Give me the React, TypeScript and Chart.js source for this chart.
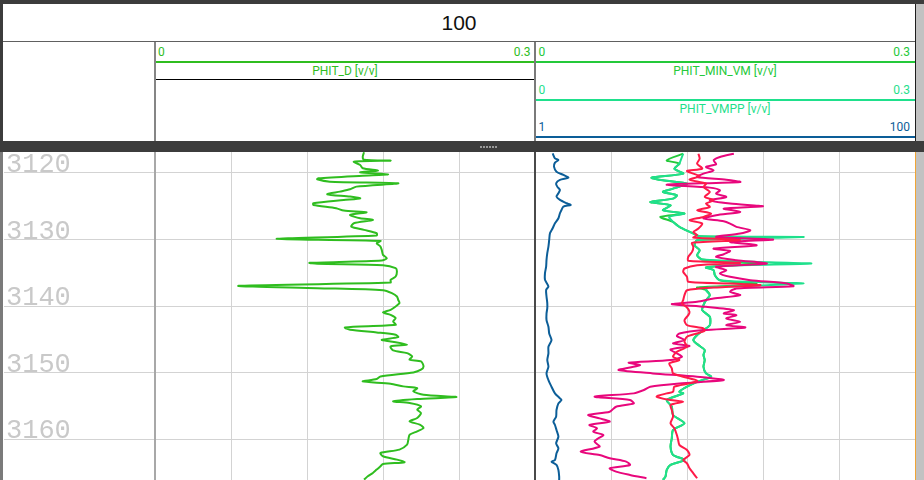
import React, { useEffect, useRef } from "react";
import { Chart, registerables } from "chart.js";

Chart.register(...registerables);

// ---------- data ----------
const TITLE = "100";
const DEPTH_MIN = 3116.85;
const DEPTH_MAX = 3166.11;
const DEPTH_TICKS = [3120, 3130, 3140, 3150, 3160];
const PHI_TICKS = [0, 0.06, 0.12, 0.18, 0.24, 0.3];

const PHIT_D_DEPTH = [
  3116.9, 3117.55, 3118.0, 3118.15, 3118.3, 3118.8, 3119.3, 3119.65, 3119.9, 3120.2,
  3120.4, 3120.8, 3120.95, 3121.3, 3121.55, 3122.05, 3122.45, 3122.8, 3123.2, 3123.55,
  3123.8, 3124.05, 3124.55, 3124.8, 3125.3, 3125.65, 3125.9, 3126.3, 3126.8, 3127.05,
  3127.55, 3128.05, 3128.55, 3129.05, 3129.4, 3129.9, 3130.2, 3130.55, 3131.05, 3131.55,
  3132.3, 3132.8, 3133.15, 3133.5, 3133.65, 3133.85, 3134.3, 3134.8, 3135.55, 3136.05,
  3136.45, 3136.95, 3137.3, 3137.6, 3138.05, 3138.55, 3139.05, 3139.55, 3140.05, 3140.55,
  3140.95, 3141.3, 3141.8, 3142.3, 3142.8, 3143.2, 3143.55, 3143.95, 3144.3, 3144.65,
  3145.05, 3145.3, 3145.8, 3146.05, 3146.65, 3147.05, 3147.55, 3148.05, 3148.3, 3149.05,
  3149.55, 3149.95, 3150.55, 3150.95, 3151.3, 3151.65, 3152.05, 3152.3, 3152.8, 3153.3,
  3153.65, 3153.95, 3154.3, 3154.55, 3155.05, 3155.55, 3156.05, 3156.8, 3157.3, 3157.8,
  3158.3, 3158.8, 3159.3, 3160.05, 3160.8, 3161.55, 3162.05, 3162.55, 3163.05, 3163.45,
  3163.7, 3164.05, 3164.55, 3165.05, 3165.55, 3166.05,
];
const PHIT_D = [
  0.165, 0.164, 0.165, 0.186, 0.157, 0.162, 0.164, 0.176, 0.162, 0.184,
  0.164, 0.129, 0.128, 0.138, 0.192, 0.159, 0.154, 0.146, 0.136, 0.154,
  0.162, 0.149, 0.125, 0.125, 0.143, 0.149, 0.167, 0.154, 0.162, 0.172,
  0.157, 0.155, 0.165, 0.175, 0.175, 0.096, 0.178, 0.175, 0.178, 0.179,
  0.18, 0.183, 0.179, 0.122, 0.128, 0.18, 0.19, 0.191, 0.19, 0.186,
  0.186, 0.066, 0.128, 0.18, 0.187, 0.191, 0.192, 0.193, 0.19, 0.186,
  0.18, 0.186, 0.19, 0.188, 0.19, 0.15, 0.154, 0.175, 0.19, 0.192,
  0.179, 0.186, 0.199, 0.186, 0.188, 0.199, 0.203, 0.201, 0.21, 0.212,
  0.21, 0.204, 0.178, 0.175, 0.164, 0.186, 0.196, 0.207, 0.204, 0.212,
  0.238, 0.207, 0.188, 0.201, 0.21, 0.207, 0.21, 0.207, 0.201, 0.209,
  0.212, 0.207, 0.201, 0.2, 0.199, 0.193, 0.178, 0.18, 0.191, 0.197,
  0.18, 0.178, 0.175, 0.172, 0.168, 0.165,
];

const VM_DEPTH = [
  3117.1, 3118.1, 3118.6, 3119.35, 3120.1, 3120.7, 3121.1, 3121.6, 3122.35, 3122.85,
  3123.35, 3123.85, 3124.35, 3124.85, 3125.6, 3126.1, 3126.6, 3127.35, 3128.1, 3128.85,
  3129.1, 3129.5, 3129.6, 3129.85, 3130.1, 3130.85, 3131.6, 3132.35, 3133.0, 3133.4,
  3133.6, 3133.9, 3134.2, 3134.6, 3135.35, 3136.1, 3136.4, 3136.6, 3136.9, 3137.2,
  3137.6, 3138.35, 3139.1, 3139.85, 3140.6, 3141.6, 3142.85, 3143.6, 3144.35, 3145.1,
  3145.85, 3146.6, 3147.35, 3148.1, 3149.1, 3150.1, 3150.6, 3151.35, 3152.1, 3152.85,
  3153.1, 3154.1, 3155.1, 3156.35, 3157.6, 3158.6, 3159.85, 3161.1, 3162.35, 3163.1,
  3163.85, 3164.6, 3165.6, 3166.1,
];
const PHIT_VMPP = [
  0.117, 0.115, 0.114, 0.11, 0.117, 0.092, 0.101, 0.12, 0.109, 0.101,
  0.112, 0.109, 0.091, 0.107, 0.101, 0.118, 0.106, 0.109, 0.114, 0.122,
  0.125, 0.13, 0.212, 0.162, 0.128, 0.126, 0.13, 0.128, 0.132, 0.185,
  0.218, 0.154, 0.135, 0.141, 0.142, 0.146, 0.18, 0.212, 0.178, 0.137,
  0.135, 0.138, 0.135, 0.133, 0.132, 0.138, 0.138, 0.133, 0.128, 0.125,
  0.129, 0.134, 0.133, 0.134, 0.133, 0.135, 0.139, 0.128, 0.12, 0.114,
  0.117, 0.104, 0.108, 0.109, 0.118, 0.109, 0.108, 0.107, 0.109, 0.118,
  0.107, 0.104, 0.103, 0.101,
];
const PHIT_MIN_VM = [
  0.117, 0.104, 0.114, 0.11, 0.117, 0.092, 0.101, 0.12, 0.109, 0.101,
  0.112, 0.109, 0.091, 0.107, 0.101, 0.118, 0.099, 0.109, 0.114, 0.122,
  0.125, 0.13, 0.17, 0.162, 0.128, 0.126, 0.13, 0.128, 0.132, 0.16,
  0.18, 0.154, 0.135, 0.141, 0.142, 0.146, 0.16, 0.175, 0.16, 0.128,
  0.135, 0.138, 0.135, 0.133, 0.132, 0.138, 0.138, 0.133, 0.128, 0.125,
  0.129, 0.134, 0.133, 0.134, 0.133, 0.135, 0.139, 0.128, 0.12, 0.114,
  0.117, 0.104, 0.108, 0.109, 0.118, 0.109, 0.108, 0.107, 0.109, 0.118,
  0.107, 0.104, 0.103, 0.101,
];

const RED_DEPTH = [
  3117.1, 3117.85, 3118.6, 3119.35, 3119.7, 3120.1, 3120.5, 3121.0, 3121.6, 3122.1,
  3122.85, 3123.6, 3124.1, 3124.6, 3125.1, 3125.6, 3126.1, 3126.6, 3127.1, 3127.6,
  3128.35, 3128.85, 3129.35, 3129.7, 3130.1, 3130.5, 3131.1, 3131.85, 3132.6, 3133.2,
  3133.5, 3133.85, 3134.35, 3134.85, 3135.6, 3136.35, 3136.6, 3136.85, 3137.2, 3137.6,
  3138.35, 3139.1, 3139.6, 3140.2, 3140.85, 3141.35, 3142.1, 3142.85, 3143.35, 3143.7,
  3144.1, 3144.6, 3145.35, 3146.1, 3146.85, 3147.6, 3148.1, 3148.6, 3149.35, 3150.1,
  3150.6, 3151.2, 3151.6, 3152.1, 3152.85, 3153.1, 3153.6, 3154.1, 3154.35, 3154.85,
  3155.6, 3156.6, 3157.6, 3158.35, 3159.35, 3160.1, 3160.85, 3161.6, 3162.35, 3163.1,
  3163.6, 3164.35, 3165.1, 3165.85,
];
const RED_VALUES = [
  0.129, 0.13, 0.128, 0.132, 0.12, 0.125, 0.13, 0.122, 0.135, 0.133,
  0.138, 0.134, 0.141, 0.135, 0.138, 0.128, 0.139, 0.133, 0.122, 0.132,
  0.129, 0.125, 0.128, 0.125, 0.162, 0.124, 0.125, 0.124, 0.121, 0.121,
  0.162, 0.128, 0.118, 0.117, 0.12, 0.121, 0.154, 0.178, 0.141, 0.12,
  0.118, 0.117, 0.116, 0.12, 0.122, 0.121, 0.118, 0.12, 0.133, 0.134,
  0.128, 0.12, 0.118, 0.12, 0.112, 0.109, 0.114, 0.106, 0.108, 0.109,
  0.117, 0.128, 0.122, 0.11, 0.109, 0.104, 0.096, 0.107, 0.117, 0.107,
  0.108, 0.109, 0.107, 0.11, 0.112, 0.113, 0.114, 0.12, 0.122, 0.117,
  0.12, 0.122, 0.125, 0.128,
];

const MAG_DEPTH = [
  3117.1, 3117.6, 3118.1, 3118.7, 3119.1, 3119.6, 3120.1, 3120.6, 3121.0, 3121.35,
  3121.75, 3122.2, 3122.6, 3123.1, 3123.6, 3124.1, 3124.6, 3125.0, 3125.35, 3125.85,
  3126.35, 3126.85, 3127.25, 3127.6, 3128.1, 3128.6, 3129.1, 3129.6, 3130.0, 3130.35,
  3130.85, 3131.35, 3131.7, 3132.2, 3132.6, 3133.1, 3133.6, 3134.1, 3134.6, 3135.1,
  3135.6, 3136.1, 3136.6, 3137.0, 3137.35, 3137.85, 3138.35, 3138.85, 3139.35, 3139.7,
  3140.1, 3140.6, 3141.1, 3141.35, 3141.85, 3142.35, 3142.85, 3143.2, 3143.6, 3144.1,
  3144.5, 3145.1, 3145.6, 3146.0, 3146.5, 3147.1, 3147.6, 3148.1, 3148.5, 3148.85,
  3149.2, 3149.6, 3150.1, 3150.6, 3151.1, 3151.6, 3152.1, 3152.6, 3153.1, 3153.6,
  3154.1, 3154.6, 3155.1, 3155.85, 3156.35, 3156.85, 3157.35, 3157.85, 3158.35, 3158.85,
  3159.35, 3159.85, 3160.35, 3161.1, 3161.85, 3162.35, 3162.85, 3163.35, 3163.85, 3164.35,
  3164.85, 3165.35, 3165.85,
];
const MAG_VALUES = [
  0.157, 0.146, 0.141, 0.143, 0.135, 0.141, 0.133, 0.128, 0.151, 0.162,
  0.104, 0.138, 0.146, 0.143, 0.151, 0.138, 0.154, 0.18, 0.149, 0.162,
  0.143, 0.133, 0.149, 0.154, 0.159, 0.17, 0.162, 0.143, 0.188, 0.154,
  0.175, 0.141, 0.154, 0.149, 0.143, 0.159, 0.183, 0.143, 0.151, 0.146,
  0.154, 0.17, 0.199, 0.204, 0.159, 0.154, 0.162, 0.141, 0.128, 0.108,
  0.135, 0.157, 0.149, 0.159, 0.151, 0.162, 0.151, 0.166, 0.133, 0.114,
  0.112, 0.118, 0.109, 0.122, 0.107, 0.112, 0.116, 0.107, 0.074, 0.083,
  0.075, 0.066, 0.093, 0.128, 0.149, 0.114, 0.091, 0.086, 0.078, 0.047,
  0.075, 0.078, 0.064, 0.059, 0.042, 0.051, 0.059, 0.043, 0.049, 0.046,
  0.054, 0.05, 0.047, 0.051, 0.036, 0.051, 0.059, 0.072, 0.075, 0.059,
  0.064, 0.075, 0.088,
];

const BLUE_DEPTH = [
  3117.05, 3117.8, 3118.05, 3118.45, 3119.05, 3119.8, 3120.3, 3120.7, 3121.05, 3121.55,
  3122.05, 3122.55, 3123.05, 3123.55, 3124.05, 3124.55, 3124.8, 3125.05, 3125.55, 3126.05,
  3126.8, 3127.55, 3128.3, 3129.05, 3130.05, 3131.05, 3132.05, 3133.05, 3134.05, 3135.05,
  3136.05, 3137.05, 3137.55, 3138.55, 3139.55, 3140.3, 3141.1, 3142.1, 3143.1, 3144.1,
  3145.1, 3146.1, 3147.1, 3148.1, 3149.1, 3150.1, 3151.1, 3152.1, 3153.1, 3153.85,
  3154.1, 3154.6, 3155.6, 3156.6, 3157.35, 3157.85, 3158.6, 3159.6, 3160.6, 3161.35,
  3162.1, 3163.1, 3163.35, 3163.85, 3164.6, 3165.6, 3166.1,
];
const BLUE_VALUES = [
  5.6, 6.2, 7.1, 6.2, 5.95, 6.6, 8.4, 9.7, 7.5, 6.5,
  6.8, 7.5, 7.1, 6.6, 7.5, 9.25, 10.3, 8.4, 7.9, 7.5,
  7.1, 6.2, 5.6, 4.9, 4.7, 4.5, 4.2, 4.0, 3.9, 3.6,
  3.6, 4.5, 3.9, 4.0, 4.2, 4.2, 4.0, 4.0, 4.5, 4.7,
  5.3, 4.5, 4.5, 4.2, 4.5, 4.0, 4.5, 5.3, 6.2, 7.5,
  7.9, 7.1, 6.6, 6.5, 5.8, 6.2, 6.6, 7.1, 6.5, 7.1,
  6.6, 6.2, 5.3, 6.6, 7.1, 7.3, 7.3,
];

// ---------- styling ----------
const C_PHIT_D = "#2fbd1f";
const C_MIN_VM = "#24c93a";
const C_VMPP = "#1fe08c";
const C_BLUE = "#0c5e98";
const C_RED = "#ff1a48";
const C_MAG = "#e8077c";
const GRID = "#d3d3d3";
const LABEL_FONT = "Roboto, 'Noto Sans', sans-serif";

const pts = (depth: number[], values: number[]) =>
  depth.map((d, i) => ({ x: values[i], y: d }));

function depthScale(showLabels: boolean): any {
  return {
    type: "linear",
    reverse: true,
    min: DEPTH_MIN,
    max: DEPTH_MAX,
    afterBuildTicks: (axis: any) => {
      axis.ticks = DEPTH_TICKS.map((v) => ({ value: v }));
    },
    afterFit: (axis: any) => {
      axis.paddingTop = 0;
      axis.paddingBottom = 0;
    },
    grid: { color: GRID, lineWidth: 1, drawTicks: false },
    border: { display: false },
    ticks: showLabels
      ? {
          display: true,
          mirror: true,
          padding: 2,
          labelOffset: -8,
          autoSkip: false,
          color: "#c9c9c9",
          font: { family: "'Liberation Mono', monospace", size: 27 },
          callback: (v: any) => String(v),
        }
      : { display: false },
  };
}

function phiScale(): any {
  return {
    type: "linear",
    position: "top",
    min: 0,
    max: 0.3,
    afterBuildTicks: (axis: any) => {
      axis.ticks = PHI_TICKS.map((v) => ({ value: v }));
    },
    grid: {
      color: (ctx: any) =>
        ctx.index === 0 || ctx.index === PHI_TICKS.length - 1 ? "rgba(0,0,0,0)" : GRID,
      lineWidth: 1,
      drawTicks: false,
    },
    border: { display: false },
    ticks: { display: false },
  };
}

function line(label: string, data: any[], color: string, xAxisID = "x"): any {
  return {
    label,
    data,
    borderColor: color,
    backgroundColor: color,
    borderWidth: 2,
    pointRadius: 0,
    tension: 0.25,
    fill: false,
    xAxisID,
    yAxisID: "y",
  };
}

function baseOptions(scales: any): any {
  return {
    responsive: false,
    animation: false,
    indexAxis: "y",
    events: [],
    layout: { padding: 0 },
    plugins: { legend: { display: false }, tooltip: { enabled: false } },
    scales,
  };
}

function ChartCanvas(props: { left: number; top: number; width: number; height: number; make: () => any }) {
  const ref = useRef<HTMLCanvasElement>(null);
  useEffect(() => {
    const chart = new Chart(ref.current as HTMLCanvasElement, props.make());
    return () => chart.destroy();
  }, []);
  return (
    <canvas
      ref={ref}
      width={props.width}
      height={props.height}
      style={{ position: "absolute", left: props.left, top: props.top, width: props.width, height: props.height }}
    />
  );
}

const box = (left: number, top: number, width: number, height: number, bg: string): React.CSSProperties => ({
  position: "absolute",
  left,
  top,
  width,
  height,
  background: bg,
});

function Txt(props: { left: number; width: number; top: number; align: "left" | "right" | "center"; color: string; children: any }) {
  return (
    <div
      style={{
        position: "absolute",
        left: props.left,
        width: props.width,
        top: props.top,
        height: 14,
        lineHeight: "14px",
        fontSize: 12,
        fontFamily: LABEL_FONT,
        color: props.color,
        textAlign: props.align,
        whiteSpace: "nowrap",
      }}
    >
      {props.children}
    </div>
  );
}

export default function App() {
  const PLOT_TOP = 152;
  const PLOT_H = 328;
  return (
    <div style={{ position: "fixed", left: 0, top: 0, width: 924, height: 480, background: "#fff", overflow: "hidden" }}>
      {/* plot area charts */}
      <ChartCanvas
        left={0}
        top={PLOT_TOP}
        width={155}
        height={PLOT_H}
        make={() => ({
          type: "line",
          data: { datasets: [] },
          options: baseOptions({
            x: { type: "linear", min: 0, max: 1, display: false },
            y: depthScale(true),
          }),
        })}
      />
      <ChartCanvas
        left={155}
        top={PLOT_TOP}
        width={380}
        height={PLOT_H}
        make={() => ({
          type: "line",
          data: { datasets: [line("PHIT_D [v/v]", pts(PHIT_D_DEPTH, PHIT_D), C_PHIT_D)] },
          options: baseOptions({ x: phiScale(), y: depthScale(false) }),
        })}
      />
      <ChartCanvas
        left={535}
        top={PLOT_TOP}
        width={380}
        height={PLOT_H}
        make={() => ({
          type: "line",
          data: {
            datasets: [
              line("red", pts(RED_DEPTH, RED_VALUES), C_RED),
              line("magenta", pts(MAG_DEPTH, MAG_VALUES), C_MAG),
              line("PHIT_VMPP [v/v]", pts(VM_DEPTH, PHIT_VMPP), C_VMPP),
              line("PHIT_MIN_VM [v/v]", pts(VM_DEPTH, PHIT_MIN_VM), C_MIN_VM),
              line("blue", pts(BLUE_DEPTH, BLUE_VALUES), C_BLUE, "xb"),
            ],
          },
          options: baseOptions({
            x: phiScale(),
            xb: { type: "linear", position: "top", min: 1, max: 100, display: false },
            y: depthScale(false),
          }),
        })}
      />

      {/* frame */}
      <div style={box(0, 0, 924, 4, "#3c3c3c")} />
      <div style={box(0, 0, 3, 152, "#3c3c3c")} />
      <div style={box(0, 152, 3, 328, "#7a7a7a")} />
      <div style={box(915, 4, 1, 137, "#1e1e1e")} />
      <div style={box(915, 152, 1, 328, "#f0a535")} />
      <div style={box(916, 4, 8, 476, "#c2c2c2")} />
      <div style={box(3, 41, 912, 1, "#606060")} />
      <div style={box(154, 42, 2, 99, "#858585")} />
      <div style={box(534, 42, 2, 99, "#7a7a7a")} />
      <div style={box(154, 152, 2, 328, "#a8a8a8")} />
      <div style={box(534, 152, 2, 328, "#4a4a4a")} />
      <div style={box(0, 141, 924, 11, "#3c3c3c")} />
      {[0, 1, 2, 3, 4, 5].map((i) => (
        <div key={i} style={box(480 + i * 3, 146, 2, 2, "#9a9a9a")} />
      ))}

      {/* title */}
      <div
        style={{
          position: "absolute",
          left: 3,
          top: 5,
          width: 912,
          height: 36,
          lineHeight: "36px",
          textAlign: "center",
          fontSize: 21,
          fontFamily: "'Liberation Sans', Arial, sans-serif",
          color: "#111",
        }}
      >
        {TITLE}
      </div>

      {/* track 1 header */}
      <Txt left={158} width={100} top={45} align="left" color={C_PHIT_D}>0</Txt>
      <Txt left={430} width={100.5} top={45} align="right" color={C_PHIT_D}>0.3</Txt>
      <div style={box(156, 61, 378, 2, C_PHIT_D)} />
      <Txt left={155} width={380} top={64} align="center" color={C_PHIT_D}>PHIT_D [v/v]</Txt>
      <div style={box(156, 79, 378, 1, "#000")} />

      {/* track 2 header */}
      <Txt left={538.5} width={100} top={45} align="left" color={C_MIN_VM}>0</Txt>
      <Txt left={810} width={100} top={45} align="right" color={C_MIN_VM}>0.3</Txt>
      <div style={box(536, 61, 379, 2, C_MIN_VM)} />
      <Txt left={535} width={380} top={64} align="center" color={C_MIN_VM}>PHIT_MIN_VM [v/v]</Txt>

      <Txt left={538.5} width={100} top={83} align="left" color={C_VMPP}>0</Txt>
      <Txt left={810} width={100} top={83} align="right" color={C_VMPP}>0.3</Txt>
      <div style={box(536, 99, 379, 2, C_VMPP)} />
      <Txt left={535} width={380} top={101.5} align="center" color={C_VMPP}>PHIT_VMPP [v/v]</Txt>

      <Txt left={538.5} width={100} top={119.7} align="left" color={C_BLUE}>1</Txt>
      <Txt left={810} width={100} top={119.7} align="right" color={C_BLUE}>100</Txt>
      <div style={box(536, 136, 379, 2, C_BLUE)} />
    </div>
  );
}
